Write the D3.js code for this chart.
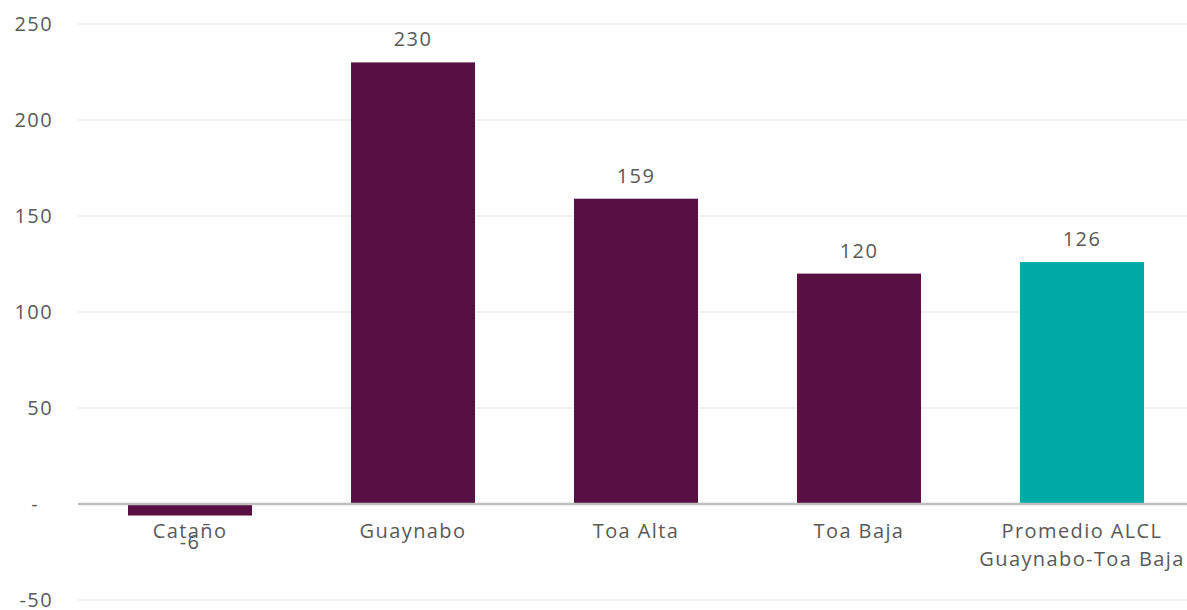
<!DOCTYPE html>
<html>
<head>
<meta charset="utf-8">
<script src="https://cdn.jsdelivr.net/npm/d3@7"></script>
<style>
  html, body { margin: 0; padding: 0; background: #fff; }
  svg { display: block; font-family: "Open Sans", sans-serif; }
</style>
</head>
<body>
<svg id="chart" width="1187" height="610"></svg>
<script>
// Categories and values
const categories = ["Cataño", "Guaynabo", "Toa Alta", "Toa Baja", "Promedio ALCL\nGuaynabo-Toa Baja"];
const values = [-6, 230, 159, 120, 126];
const barColors = ["#580f41", "#580f41", "#580f41", "#580f41", "#00aaa6"];
const yTicks = [-50, 0, 50, 100, 150, 200, 250];

const svg = d3.select("#chart");
const textColor = "#595959";
const fontSize = 20;
const spacing = "1.4px";

const x = d3.scaleBand()
  .domain(categories)
  .range([78.5, 1193.5])
  .paddingInner(99 / 223)
  .paddingOuter(49.5 / 223);

const y = d3.scaleLinear()
  .domain([-50, 250])
  .range([600, 24]);

// Gridlines
svg.append("g")
  .selectAll("line")
  .data(yTicks.filter(d => d !== 0))
  .join("line")
  .attr("x1", 78).attr("x2", 1187)
  .attr("y1", d => y(d)).attr("y2", d => y(d))
  .attr("stroke", "#eeeeee")
  .attr("stroke-width", 1.5);

// Y axis labels
const yAxis = d3.axisLeft(y)
  .tickValues(yTicks)
  .tickSize(0)
  .tickPadding(0)
  .tickFormat(d => d === 0 ? "-" : d);

const gy = svg.append("g")
  .attr("transform", "translate(53,0)")
  .call(yAxis);
gy.select(".domain").remove();
gy.selectAll("text")
  .attr("fill", textColor)
  .attr("font-size", fontSize)
  .attr("font-family", "'Open Sans', sans-serif")
  .style("letter-spacing", spacing)
  .attr("dx", d => d === 0 ? -14 : 0);

// Bars
svg.append("g")
  .selectAll("rect")
  .data(values)
  .join("rect")
  .attr("x", (d, i) => x(categories[i]))
  .attr("width", x.bandwidth())
  .attr("y", d => y(Math.max(0, d)))
  .attr("height", d => Math.abs(y(d) - y(0)))
  .attr("fill", (d, i) => barColors[i]);

// Zero line
svg.append("line")
  .attr("x1", 78).attr("x2", 1187)
  .attr("y1", y(0)).attr("y2", y(0))
  .attr("stroke", "#bfbfbf")
  .attr("stroke-width", 2.5);

// Category labels
const cat = svg.append("g")
  .selectAll("text")
  .data(categories)
  .join("text")
  .attr("x", d => x(d) + x.bandwidth() / 2)
  .attr("y", y(0) + 34)
  .attr("text-anchor", "middle")
  .attr("fill", textColor)
  .attr("font-size", fontSize)
  .style("letter-spacing", spacing);
cat.each(function(d) {
  const lines = d.split("\n");
  d3.select(this).selectAll("tspan")
    .data(lines)
    .join("tspan")
    .attr("x", x(d) + x.bandwidth() / 2)
    .attr("dy", (l, i) => i === 0 ? 0 : 28)
    .text(l => l);
});

// Value labels
svg.append("g")
  .selectAll("text")
  .data(values)
  .join("text")
  .attr("x", (d, i) => x(categories[i]) + x.bandwidth() / 2)
  .attr("y", d => d >= 0 ? y(d) - 16 : y(d) + 33)
  .attr("text-anchor", "middle")
  .attr("fill", textColor)
  .attr("font-size", fontSize)
  .style("letter-spacing", spacing)
  .text(d => d);
</script>
</body>
</html>
